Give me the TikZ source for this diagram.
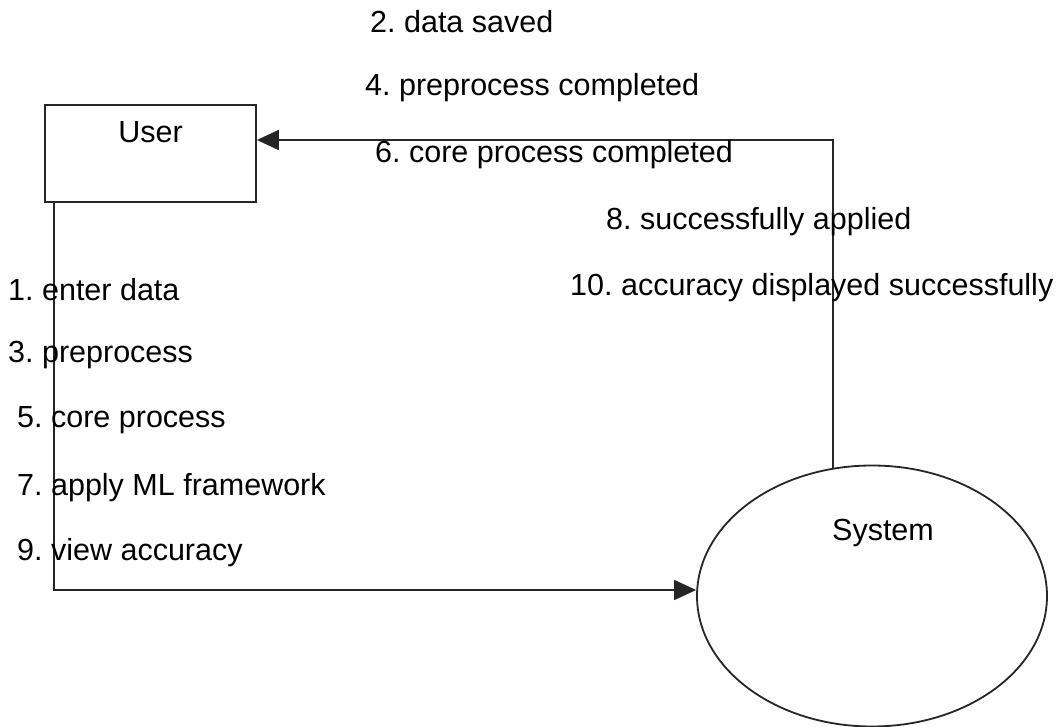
\documentclass[tikz,border=0pt]{standalone}
\usepackage{fontspec}
\setmainfont{Liberation Sans}
\usetikzlibrary{shapes.geometric,arrows.meta}
\frenchspacing
\begin{document}
\begin{tikzpicture}[x=1pt,y=-1pt,
  every node/.style={font=\fontsize{30.5}{34}\selectfont, text=black},
  lbl/.style={anchor=west, inner sep=0pt},
  flow/.style={line width=1.8pt, draw=black!85, -{Triangle[length=22pt,width=20pt]}}]
\useasboundingbox (0,0) rectangle (1063,727);
\fill[white] (0,0) rectangle (1063,727);

% entities
\node[draw=black!85, line width=1.8pt, minimum width=211pt, minimum height=97pt, inner sep=0pt,
      label={[yshift=21pt]center:User}] (user) at (150.5,153.5) {};
\node[ellipse, draw=black!85, line width=1.8pt, minimum width=350pt, minimum height=261pt, inner sep=0pt,
      label={[xshift=11pt,yshift=63pt]center:System}] (sys) at (872,596) {};

% connectors
\coordinate (ret) at (833,468);
\draw[flow] ([xshift=10pt]user.south west) |- ([yshift=6pt]sys.west);
\draw[flow] (ret) |- ([yshift=13.5pt]user.east);

% requests (left)
\node[lbl] (l1) at (8,290) {1. enter data};
\node[lbl] (l3) at (8,355) {3. preprocess};
\node[lbl] (l5) at (17,420) {5. core process};
\node[lbl] (l7) at (17,488) {7. apply ML framework};
\node[lbl] (l9) at (17,553) {9. view accuracy};

% responses (right)
\node[lbl] (r2) at (370,22) {2. data saved};
\node[lbl] (r4) at (365,88) {4. preprocess completed};
\node[lbl] (r6) at (375,155) {6. core process completed};
\node[lbl] (r8) at (606,222) {8. successfully applied};
\node[lbl] (r10) at (570,288) {10. accuracy displayed successfully};
\end{tikzpicture}
\end{document}
